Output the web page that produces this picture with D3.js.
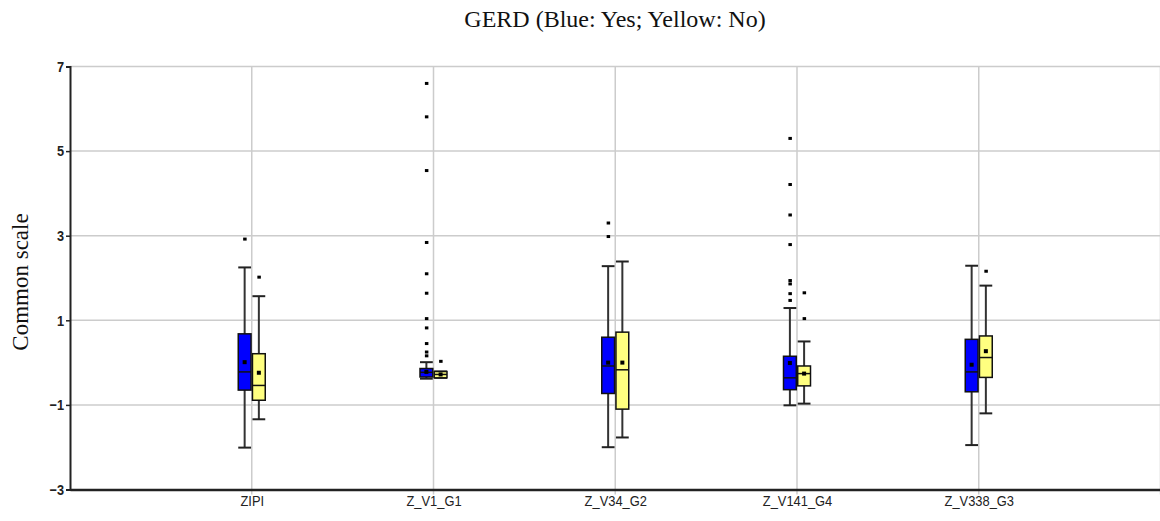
<!DOCTYPE html>
<html>
<head>
<meta charset="utf-8">
<script src="https://cdn.jsdelivr.net/npm/d3@7"></script>
<style>
  html, body { margin: 0; padding: 0; background: #fff; }
  svg { display: block; }
</style>
</head>
<body>
<svg id="chart" width="1160" height="521"></svg>
<script>
// Variables on the common (z-score) scale
const categories = ["ZIPI", "Z_V1_G1", "Z_V34_G2", "Z_V141_G4", "Z_V338_G3"];
const groups = ["Yes", "No"];
const yTicks = [-3, -1, 1, 3, 5, 7];

// Five-number summaries per group, one entry per category
const yesLow    = [-2.01, -0.38, -2.00, -1.01, -1.95];
const yesQ1     = [-0.65, -0.34, -0.73, -0.64, -0.69];
const yesMedian = [-0.22, -0.23, -0.08, -0.36, -0.22];
const yesQ3     = [ 0.68, -0.14,  0.60,  0.15,  0.55];
const yesHigh   = [ 2.25,  0.01,  2.28,  1.29,  2.29];
const yesMean   = [ 0.01, -0.22,  0.00, -0.01, -0.05];
const yesOutliers = [
  [2.92],
  [6.60, 5.81, 4.54, 2.84, 2.10, 1.64, 1.04, 0.82, 0.45, 0.25, 0.16],
  [3.30, 2.98],
  [5.30, 4.21, 3.49, 2.79, 1.94, 1.86, 1.63, 1.47],
  []
];

const noLow    = [-1.34, -0.36, -1.77, -0.97, -1.20];
const noQ1     = [-0.89, -0.36, -1.10, -0.55, -0.35];
const noMedian = [-0.54, -0.28, -0.17, -0.26,  0.12];
const noQ3     = [ 0.21, -0.21,  0.72, -0.08,  0.63];
const noHigh   = [ 1.57, -0.21,  2.39,  0.50,  1.82];
const noMean   = [-0.24, -0.28,  0.00, -0.26,  0.27];
const noOutliers = [
  [2.02],
  [0.03],
  [],
  [1.65, 1.04],
  [2.16]
];

const fills = { Yes: "#0000ff", No: "#ffff80" };
const sansFont = "'Liberation Sans', Arial, sans-serif";
const serifFont = "'Liberation Serif', 'Times New Roman', serif";

function rows(low, q1, med, q3, high, mean, outs, group) {
  return categories.map((c, i) => ({
    cat: c, idx: i + 1, group,
    low: low[i], q1: q1[i], med: med[i], q3: q3[i], high: high[i],
    mean: mean[i], outliers: outs[i]
  }));
}
const boxes = rows(yesLow, yesQ1, yesMedian, yesQ3, yesHigh, yesMean, yesOutliers, "Yes")
  .concat(rows(noLow, noQ1, noMedian, noQ3, noHigh, noMean, noOutliers, "No"));

const svg = d3.select("#chart");
const plotLeft = 70, plotRight = 1160.5, plotTop = 66.5, plotBottom = 489.5;

const x = d3.scaleLinear().domain([0, 6]).range([plotLeft, plotRight]);
const y = d3.scaleLinear().domain([-3, 7]).range([plotBottom, plotTop]);
const inner = d3.scaleBand().domain(groups).range([-13.5, 13.5]).paddingInner(0.1);
const bw = inner.bandwidth();

// Grid
const grid = svg.append("g");
grid.selectAll("line.h").data(yTicks.filter(t => t > -3)).join("line")
  .attr("x1", plotLeft).attr("x2", plotRight)
  .attr("y1", d => y(d)).attr("y2", d => y(d))
  .attr("stroke", "#cccccc").attr("stroke-width", 1.5);
grid.selectAll("line.v").data(d3.range(1, 7)).join("line")
  .attr("x1", d => x(d)).attr("x2", d => x(d))
  .attr("y1", plotTop).attr("y2", plotBottom + 5)
  .attr("stroke", "#cccccc").attr("stroke-width", 1.5);

// Axes (labels use a horizontally condensed sans face)
const yAxis = d3.axisLeft(y).tickValues(yTicks).tickSize(4).tickFormat(d3.format("d"));
const gy = svg.append("g").attr("transform", `translate(${plotLeft},0)`).call(yAxis);
gy.select(".domain").attr("stroke", "#222").attr("stroke-width", 2);
gy.selectAll(".tick line").attr("stroke", "#222").attr("stroke-width", 1.5);
gy.selectAll(".tick text").attr("font-family", sansFont)
  .attr("font-size", 15).attr("fill", "#222").attr("font-weight", 600)
  .attr("x", 0).attr("dx", 0)
  .attr("transform", "translate(-6,0) scale(0.85,1)");

const xAxis = d3.axisBottom(x).tickValues(d3.range(1, 6))
  .tickFormat(d => categories[d - 1]).tickSize(0).tickSizeOuter(0);
const gx = svg.append("g").attr("transform", `translate(0,${plotBottom})`).call(xAxis);
gx.select(".domain").attr("stroke", "#222").attr("stroke-width", 2.5);
gx.selectAll(".tick text").attr("font-family", sansFont)
  .attr("font-size", 15).attr("fill", "#222")
  .attr("y", 0).attr("dy", 0)
  .attr("transform", "translate(0,16) scale(0.86,1)");

// Box plots
const g = svg.append("g");
const bx = d => x(d.idx) + inner(d.group);
const cx = d => bx(d) + bw / 2;

const box = g.selectAll("g.box").data(boxes).join("g");
// whisker stem
box.append("line")
  .attr("x1", cx).attr("x2", cx)
  .attr("y1", d => y(d.high)).attr("y2", d => y(d.low))
  .attr("stroke", "#333").attr("stroke-width", 2);
// whisker caps
box.selectAll("line.cap").data(d => [d.high, d.low].map(v => ({ d, v }))).join("line")
  .attr("x1", e => bx(e.d)).attr("x2", e => bx(e.d) + bw)
  .attr("y1", e => y(e.v)).attr("y2", e => y(e.v))
  .attr("stroke", "#222").attr("stroke-width", 2);
// box
box.append("rect")
  .attr("x", bx).attr("width", bw)
  .attr("y", d => y(d.q3)).attr("height", d => y(d.q1) - y(d.q3))
  .attr("fill", d => fills[d.group])
  .attr("stroke", "#111").attr("stroke-width", 1.5);
// median
box.append("line")
  .attr("x1", bx).attr("x2", d => bx(d) + bw)
  .attr("y1", d => y(d.med)).attr("y2", d => y(d.med))
  .attr("stroke", "#111").attr("stroke-width", 1.5);
// mean
box.append("rect")
  .attr("x", d => cx(d) - 2).attr("y", d => y(d.mean) - 2)
  .attr("width", 4).attr("height", 4).attr("fill", "#000");
// outliers
box.selectAll("rect.out").data(d => d.outliers.map(v => ({ d, v }))).join("rect")
  .attr("x", e => cx(e.d) - 1.5).attr("y", e => y(e.v) - 1.5)
  .attr("width", 3.5).attr("height", 3).attr("fill", "#000");

// Titles
svg.append("text")
  .attr("x", 615).attr("y", 27).attr("text-anchor", "middle")
  .attr("font-family", serifFont)
  .attr("font-size", 24).attr("fill", "#111")
  .text("GERD (Blue: Yes; Yellow: No)");

svg.append("text")
  .attr("transform", `translate(28,${(plotTop + plotBottom) / 2 + 4}) rotate(-90)`)
  .attr("text-anchor", "middle")
  .attr("font-family", serifFont)
  .attr("font-size", 23).attr("fill", "#111")
  .text("Common scale");
</script>
</body>
</html>
